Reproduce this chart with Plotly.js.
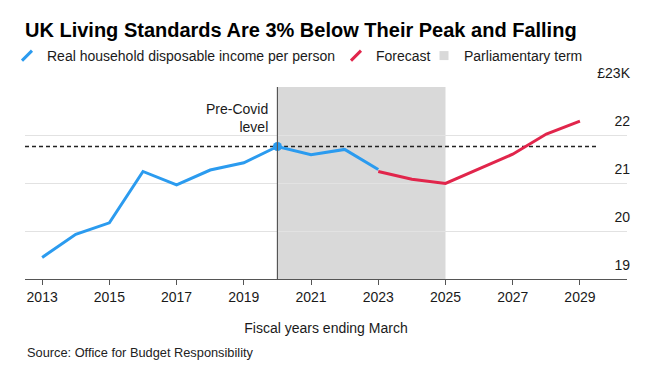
<!DOCTYPE html>
<html>
<head>
<meta charset="utf-8">
<script src="https://cdn.plot.ly/plotly-3.0.1.min.js"></script>
<style>html,body{margin:0;padding:0;background:#fff;}#chart{width:657px;height:373px;}</style>
</head>
<body>
<div id="chart"></div>
<script>
// ---- data ----
const actualYears = [2013, 2014, 2015, 2016, 2017, 2018, 2019, 2020, 2021, 2022, 2023];
const actualValues = [19.45, 19.93, 20.17, 21.24, 20.96, 21.27, 21.42, 21.76, 21.59, 21.70, 21.28];
const forecastYears = [2023, 2024, 2025, 2026, 2027, 2028, 2029];
const forecastValues = [21.24, 21.08, 20.99, 21.30, 21.60, 22.02, 22.29];
const preCovidYear = 2020;
const preCovidLevel = 21.76;
const termStart = 2020;
const termEnd = 2025;
const dashedEnd = 2029.5;
const xTickVals = [2013, 2015, 2017, 2019, 2021, 2023, 2025, 2027, 2029];
const yTickVals = [19, 20, 21, 22, 23];
const yTickText = ['19', '20', '21', '22', '£23K'];
const xRange = [2012.49, 2030.4];
const yRange = [19, 23];

const FONT = 'Liberation Sans, Arial, Helvetica, sans-serif';
const BLUE = '#2b9bef';
const RED = '#e1254b';
const GREY = '#d9d9d9';
const INK = '#1a1a1a';
const W = 657, H = 373;

const traces = [
  {x: actualYears, y: actualValues, mode: 'lines', line: {color: BLUE, width: 3}, showlegend: false},
  {x: forecastYears, y: forecastValues, mode: 'lines', line: {color: RED, width: 3}, showlegend: false},
  {x: [preCovidYear], y: [preCovidLevel], mode: 'markers', marker: {color: BLUE, size: 9}, showlegend: false},
  // legend entries
  {x: [null], y: [null], mode: 'markers', name: 'Real household disposable income per person', legend: 'legend',
   marker: {symbol: 'line-ne', size: 10, line: {color: BLUE, width: 3}}},
  {x: [null], y: [null], mode: 'markers', name: 'Forecast', legend: 'legend2',
   marker: {symbol: 'line-ne', size: 10, line: {color: RED, width: 3}}},
  {x: [null], y: [null], mode: 'markers', name: 'Parliamentary term', legend: 'legend3',
   marker: {symbol: 'square', size: 9, color: GREY}}
];

function legendAt(px) {
  return {
    orientation: 'h', xref: 'container', yref: 'container',
    x: px / W, xanchor: 'left', y: 1 - 56 / H, yanchor: 'middle',
    font: {family: FONT, size: 14, color: INK},
    bgcolor: 'rgba(0,0,0,0)', borderwidth: 0
  };
}

const layout = {
  width: W, height: H,
  margin: {l: 25, r: 30, t: 87, b: 94},
  paper_bgcolor: '#fff', plot_bgcolor: '#fff',
  font: {family: FONT, size: 14, color: INK},
  title: {
    text: 'UK Living Standards Are 3% Below Their Peak and Falling',
    font: {family: FONT, size: 20, weight: 'bold', color: '#000'},
    xref: 'container', yref: 'container', x: 25 / W, xanchor: 'left',
    y: 1 - 30 / H, yanchor: 'middle'
  },
  showlegend: true,
  legend: legendAt(7),
  legend2: legendAt(336),
  legend3: legendAt(424),
  xaxis: {
    range: xRange, tickvals: xTickVals, ticks: 'outside', ticklen: 5, tickcolor: '#555',
    showline: true, linecolor: '#555', linewidth: 1.2, showgrid: false, zeroline: false,
    tickfont: {family: FONT, size: 14, color: INK},
    title: {text: 'Fiscal years ending March', font: {family: FONT, size: 14, color: INK}, standoff: 19},
    fixedrange: true
  },
  yaxis: {
    range: yRange, tickvals: yTickVals, ticktext: yTickText, side: 'right',
    ticklabelposition: 'inside', ticklabelshift: -14, ticklabelstandoff: -6,
    ticklabeloverflow: 'allow', ticks: '',
    showgrid: true, gridcolor: '#e2e2e2', gridwidth: 1, zeroline: false, showline: false,
    tickfont: {family: FONT, size: 14, color: INK},
    fixedrange: true
  },
  shapes: [
    {type: 'rect', xref: 'x', yref: 'paper', x0: termStart, x1: termEnd, y0: 0, y1: 1,
     fillcolor: GREY, line: {width: 0}, layer: 'below'},
    {type: 'line', xref: 'x', yref: 'paper', x0: preCovidYear, x1: preCovidYear, y0: 0, y1: 1,
     line: {color: '#555', width: 1.2}, layer: 'above'},
    {type: 'line', xref: 'x', yref: 'y', x0: xRange[0], x1: dashedEnd, y0: preCovidLevel, y1: preCovidLevel,
     line: {color: '#222', width: 1.6, dash: '4px,3px'}, layer: 'below'}
  ],
  annotations: [
    {xref: 'x', yref: 'y', x: preCovidYear, y: preCovidLevel, xanchor: 'right', yanchor: 'middle',
     xshift: -7, yshift: 29, showarrow: false, align: 'right',
     text: 'Pre-Covid<br>level', font: {family: FONT, size: 14, color: INK}},
    {xref: 'paper', yref: 'paper', x: 0, y: (279 - 352) / 192, xanchor: 'left', yanchor: 'middle',
     showarrow: false, text: 'Source: Office for Budget Responsibility',
     font: {family: FONT, size: 12.8, color: '#222'}}
  ],
  hovermode: false
};

Plotly.newPlot('chart', traces, layout, {displayModeBar: false, staticPlot: true});
</script>
</body>
</html>
